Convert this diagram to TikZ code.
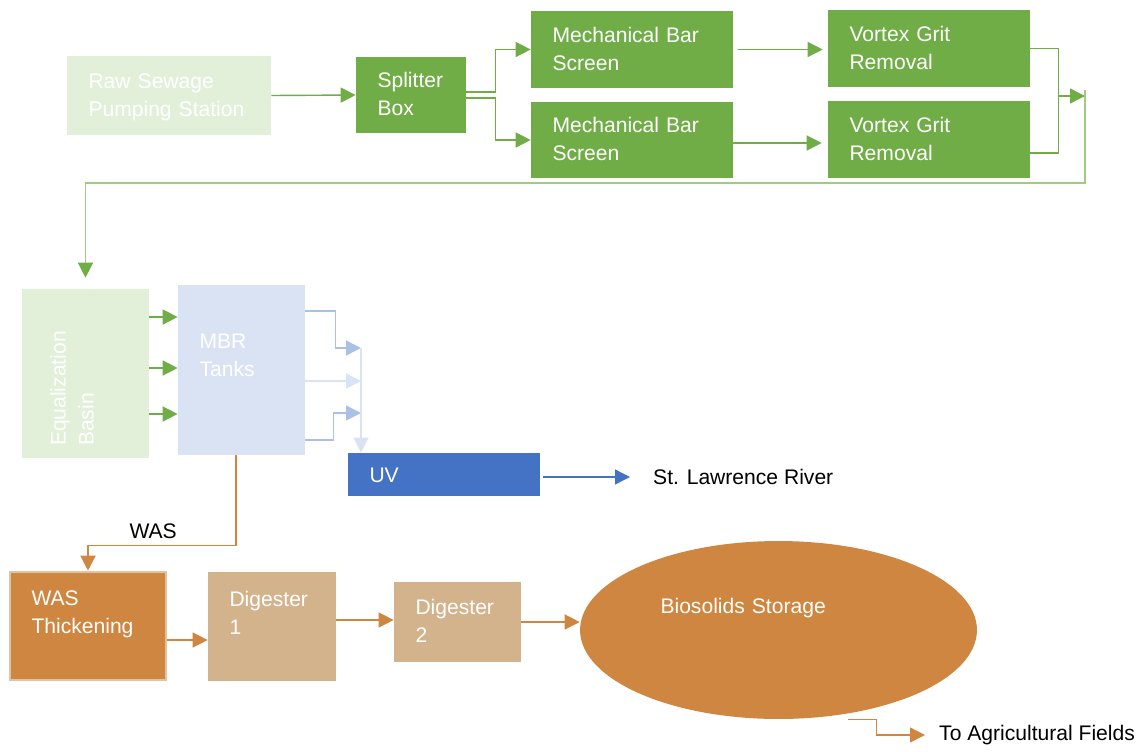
\documentclass[tikz,border=0pt]{standalone}
\usepackage{fontspec}
\setmainfont{Liberation Sans}
\definecolor{wwgreen}{RGB}{112,173,71}
\definecolor{wwpale}{RGB}{226,240,217}
\definecolor{wwline}{RGB}{160,204,130}
\definecolor{wwblue}{RGB}{68,114,196}
\definecolor{wwsky}{RGB}{218,227,243}
\definecolor{wwsteel}{RGB}{170,193,230}
\definecolor{wworange}{RGB}{206,134,64}
\definecolor{wwtan}{RGB}{211,179,140}
\definecolor{wwrim}{RGB}{222,196,160}
\usetikzlibrary{shapes,arrows.meta,positioning,calc}

\begin{document}
\begin{tikzpicture}[x=0.02cm, y=-0.02cm,
    box/.style={rectangle, inner xsep=0.43cm, inner ysep=0pt, align=left, text=white,
        text height=9pt, text depth=17.4pt, font=\fontsize{12}{15.9}\selectfont},
    lbl/.style={font=\fontsize{12}{15.9}\selectfont, text=black},
    flow/.style={line width=0.8pt, -{Triangle[length=0.3cm, width=0.3cm]}}]
    \useasboundingbox (0,0) rectangle (1146,751);

    % Headworks
    \node[box, fill=wwpale, minimum height=1.58cm, text width=3.22cm] (raw) at (169,95.5) {Raw Sewage\\Pumping Station};
    \node[box, fill=wwgreen, minimum height=1.52cm, text width=1.34cm] (split) at (411,95) {Splitter\\Box};
    \node[box, fill=wwgreen, minimum height=1.54cm, text width=3.18cm] (mbs1) at (632,49.5) {Mechanical Bar\\Screen};
    \node[box, fill=wwgreen, minimum height=1.52cm, text width=3.18cm] (mbs2) at (632,140) {Mechanical Bar\\Screen};
    \node[box, fill=wwgreen, minimum height=1.54cm, text width=3.18cm] (vgr1) at (929,48.5) {Vortex Grit\\Removal};
    \node[box, fill=wwgreen, minimum height=1.54cm, text width=3.18cm] (vgr2) at (929,139.5) {Vortex Grit\\Removal};
    \coordinate (merge) at (1085,96);
    \coordinate (ret) at (1085,183);

    % Treatment
    \node[box, fill=wwpale, rotate=90, inner xsep=0.24cm, minimum height=2.54cm, text width=2.9cm, text depth=31.6pt] (eq) at (85.5,373.5) {Equalization\\Basin};
    \node[box, fill=wwsky, minimum height=3.4cm, text width=1.68cm, text depth=33.2pt] (mbr) at (241.5,370) {MBR\\Tanks};
    \node[box, fill=wwblue, minimum height=0.86cm, text width=2.98cm, text depth=0pt] (uv) at (444,474.5) {UV};
    \node[lbl, anchor=west] (river) at (647,477) {St. Lawrence River};
    \coordinate (col) at (361,348);

    % Solids
    \node[box, fill=wworange, draw=wwrim, line width=1.5pt, minimum height=2.16cm, text width=2.26cm, text depth=32.2pt] (wast) at (88,626) {WAS\\Thickening};
    \node[box, fill=wwtan, minimum height=2.18cm, text width=1.7cm, text depth=31.6pt] (dig1) at (272,626.5) {Digester\\1};
    \node[box, fill=wwtan, minimum height=1.6cm, text width=1.68cm] (dig2) at (457.5,622) {Digester\\2};
    \node[ellipse, fill=wworange, inner sep=0pt, minimum width=7.94cm, minimum height=3.56cm, text width=4.72cm, align=left, text=white,
        text height=9pt, text depth=28.2pt, font=\fontsize{12}{15.9}\selectfont] (store) at (778.5,630) {Biosolids Storage};
    \node[lbl, anchor=west] (fields) at (933,735) {To Agricultural Fields};

    % Connections
    \draw[flow, wwgreen] (raw.east) -- (split.west);
    \draw[flow, wwgreen] ([yshift=0.06cm]split.east) -- ++(29,0) |- (mbs1.west);
    \draw[flow, wwgreen] ([yshift=-0.06cm]split.east) -- ++(29,0) |- (mbs2.west);
    \draw[flow, wwgreen] ([xshift=0.1cm]mbs1.east) -- ([xshift=-0.1cm]mbs1.east -| vgr1.west);
    \draw[flow, wwgreen] ([yshift=-0.06cm]mbs2.east) -- ([yshift=-0.06cm,xshift=-0.12cm]mbs2.east -| vgr2.west);
    \draw[flow, wwgreen] (vgr1.east) -- ++(28,0) |- (merge);
    \draw[line width=0.8pt, wwgreen] ([yshift=-0.27cm]vgr2.east) -- ++(28,0) |- (merge);
    \draw[line width=0.8pt, wwline, -{Triangle[length=0.3cm, width=0.3cm, color=wwgreen]}] ([yshift=0.12cm]merge) -- (ret) -| ([yshift=0.22cm]eq.east);

    \foreach \dy in {1.13,0.11,-0.81}
        \draw[flow, wwgreen] ([yshift=\dy cm]eq.south) -- ([yshift=\dy cm]eq.south -| mbr.west);

    \draw[flow, wwsteel] ([yshift=1.18cm]mbr.east) -- ++(30,0) |- (col);
    \draw[flow, wwsky] ([yshift=-0.22cm]mbr.east) -- ([yshift=-0.22cm]mbr.east -| col);
    \draw[flow, wwsteel] ([yshift=-1.4cm]mbr.east) -- ++(28,0) |- ([yshift=-0.86cm]mbr.east -| col);
    \draw[flow, wwsky] (col) -- (col |- uv.north);
    \draw[flow, wwblue] ([yshift=-0.05cm,xshift=0.06cm]uv.east) -- ([yshift=-0.05cm,xshift=-0.34cm]uv.east -| river.west);

    \draw[flow, wworange] ([xshift=-0.11cm]mbr.south) -- ++(0,90) -| node[pos=0.28, above, lbl] (waslbl) {WAS} (wast.north);
    \draw[flow, wworange] ([yshift=-0.28cm]wast.east) -- ([yshift=-0.28cm]wast.east -| dig1.west);
    \draw[flow, wworange] ([yshift=0.13cm]dig1.east) -- ([yshift=0.13cm]dig1.east -| dig2.west);
    \draw[flow, wworange] (dig2.east) -- (dig2.east -| store.west);
    \draw[flow, wworange] ([xshift=1.4cm]store.south) -- ++(28,0) |- ([xshift=-0.16cm]fields.west);
\end{tikzpicture}
\end{document}
